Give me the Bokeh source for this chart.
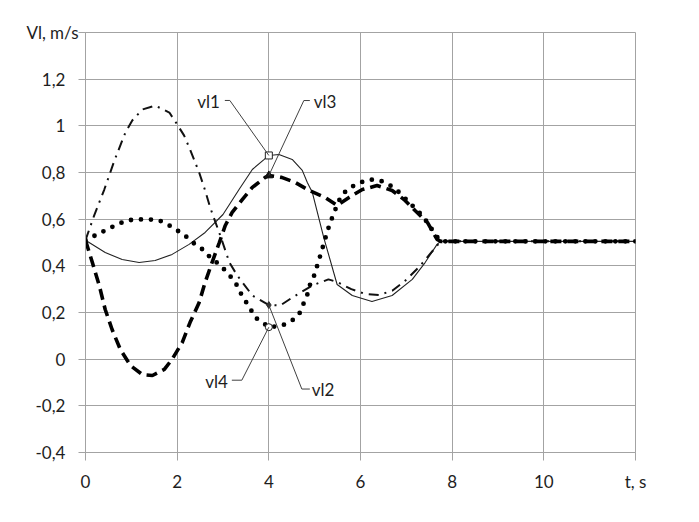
import numpy as np
from bokeh.plotting import figure
from bokeh.models import Range1d, FixedTicker, CustomJSTickFormatter, Label
from bokeh.embed import file_html
from bokeh.resources import INLINE

# ---------------- data ----------------
t_vl1 = [0, 0.43, 0.80, 1.17, 1.52, 1.89, 2.26, 2.61, 3.0, 3.35, 3.64, 3.9, 4.0, 4.22, 4.51,
         4.73, 4.84, 4.95, 5.2, 5.49, 5.82, 6.25, 6.69, 7.13, 7.41, 7.67, 7.75, 12]
vl1 = [0.51, 0.457, 0.427, 0.414, 0.423, 0.449, 0.492, 0.543, 0.62, 0.727, 0.813, 0.856, 0.873,
       0.877, 0.856, 0.809, 0.757, 0.714, 0.52, 0.32, 0.273, 0.247, 0.273, 0.342, 0.414, 0.492,
       0.505, 0.505]

t_vl2 = [0, 0.19, 0.41, 0.63, 0.87, 1.02, 1.24, 1.52, 1.83, 2.0, 2.15, 2.28, 2.48, 2.61, 2.72,
         2.94, 3.14, 3.31, 3.64, 4.0, 4.25, 4.51, 4.95, 5.3, 5.5, 5.8, 6.1, 6.4, 6.7, 7.0, 7.3,
         7.6, 7.75, 12]
vl2 = [0.51, 0.616, 0.727, 0.851, 0.971, 1.023, 1.07, 1.087, 1.057, 1.006, 0.959, 0.899, 0.80,
       0.723, 0.65, 0.53, 0.414, 0.359, 0.273, 0.232, 0.23, 0.264, 0.316, 0.342, 0.33, 0.30,
       0.28, 0.275, 0.294, 0.34, 0.40, 0.47, 0.505, 0.505]

t_vl3 = [0, 0.15, 0.3, 0.43, 0.58, 0.76, 0.98, 1.24, 1.46, 1.72, 1.89, 2.11, 2.28, 2.48, 2.61,
         2.76, 2.92, 3.05, 3.2, 3.42, 3.64, 3.92, 4.0, 4.28, 4.58, 4.88, 5.23, 5.49, 5.75, 6.04,
         6.36, 6.69, 6.95, 7.19, 7.46, 7.67, 7.75, 12]
vl3 = [0.51, 0.414, 0.316, 0.213, 0.127, 0.042, -0.027, -0.066, -0.07, -0.044, 0.0, 0.071,
       0.157, 0.243, 0.329, 0.414, 0.5, 0.573, 0.629, 0.684, 0.736, 0.779, 0.787, 0.779, 0.757,
       0.723, 0.693, 0.659, 0.693, 0.727, 0.744, 0.723, 0.684, 0.637, 0.586, 0.513, 0.505, 0.505]

t_vl4 = [0, 0.26, 0.47, 0.69, 0.91, 1.13, 1.39, 1.61, 1.83, 2.0, 2.22, 2.39, 2.59, 2.72, 2.92,
         3.09, 3.27, 3.42, 3.58, 3.7, 3.92, 4.0, 4.29, 4.51, 4.66, 4.84, 4.9, 4.99, 5.13, 5.27,
         5.34, 5.43, 5.49, 5.6, 5.78, 5.99, 6.21, 6.43, 6.65, 6.8, 7.02, 7.28, 7.46, 7.63, 7.75, 12]
vl4 = [0.51, 0.535, 0.556, 0.577, 0.595, 0.599, 0.599, 0.595, 0.573, 0.552, 0.522, 0.492, 0.466,
       0.436, 0.406, 0.372, 0.329, 0.27, 0.222, 0.179, 0.149, 0.137, 0.144, 0.166, 0.192, 0.277,
       0.32, 0.359, 0.449, 0.543, 0.586, 0.629, 0.663, 0.706, 0.736, 0.757, 0.77, 0.766, 0.744,
       0.723, 0.68, 0.629, 0.586, 0.534, 0.505, 0.505]

series_names = ["vl1", "vl2", "vl3", "vl4"]
marker_t = 4.0

x_ticks = [0, 2, 4, 6, 8, 10, 12]
x_tick_labels = ["0", "2", "4", "6", "8", "10", "t, s"]
y_ticks = [-0.4, -0.2, 0, 0.2, 0.4, 0.6, 0.8, 1.0, 1.2, 1.4]
y_tick_labels = ["-0,4", "-0,2", "0", "0,2", "0,4", "0,6", "0,8", "1", "1,2", "Vl, m/s"]
y_title = "Vl, m/s"

# ---------------- layout ----------------
W, H = 683, 506
BL, BR, BT, BB = 85, 48, 32, 54
FW, FH = W - BL - BR, H - BT - BB
X0, X1, Y0, Y1 = 0, 12, -0.4, 1.4
ppu_x = FW / (X1 - X0)
ppu_y = FH / (Y1 - Y0)

FONT = "Lato"
TXT = "#1e1e1e"
GRID = "#a3a3a3"
PAD = "\u00a0\u00a0\u00a0"   # keeps the numeric labels further from the axis than the title

p = figure(width=W, height=H, output_backend="svg", toolbar_location=None,
           x_range=Range1d(X0, X1), y_range=Range1d(Y0, Y1),
           min_border_left=BL, min_border_right=BR, min_border_top=BT, min_border_bottom=BB,
           background_fill_color="white", border_fill_color="white")

p.outline_line_color = GRID
p.outline_line_width = 1

fmt_code = """
for (let i = 0; i < vals.length; i++) {
  if (Math.abs(vals[i] - tick) < 1e-6) {
    return (labs[i] == title) ? labs[i] : labs[i] + pad;
  }
}
return "";
"""
p.xaxis.ticker = FixedTicker(ticks=x_ticks)
p.yaxis.ticker = FixedTicker(ticks=y_ticks)
p.xaxis.formatter = CustomJSTickFormatter(
    args=dict(vals=x_ticks, labs=x_tick_labels, title="", pad=""), code=fmt_code)
p.yaxis.formatter = CustomJSTickFormatter(
    args=dict(vals=y_ticks, labs=y_tick_labels, title=y_title, pad=PAD), code=fmt_code)

for ax in (p.xaxis, p.yaxis):
    ax.axis_line_color = GRID
    ax.axis_line_width = 1
    ax.major_tick_line_color = GRID
    ax.major_tick_in = 0
    ax.minor_tick_line_color = None
    ax.major_label_text_font = FONT
    ax.major_label_text_font_size = "17px"
    ax.major_label_text_color = TXT
p.xaxis.major_tick_out = 8
p.yaxis.major_tick_out = 7
p.xaxis.major_label_standoff = 10
p.yaxis.major_label_standoff = 0

p.xgrid.grid_line_color = GRID
p.ygrid.grid_line_color = GRID
p.xgrid.grid_line_width = 1
p.ygrid.grid_line_width = 1

# ---------------- curves ----------------
p.line(t_vl1, vl1, line_color="#222222", line_width=1.1)
p.line(t_vl2, vl2, line_color="#111111", line_width=2, line_dash="10 6 2 6")
p.line(t_vl3, vl3, line_color="#000000", line_width=3.6, line_dash="11 6")
p.line(t_vl4, vl4, line_color="#000000", line_width=4.8, line_dash="0 10", line_cap="round")

def at_marker(ts, vs):
    return vs[ts.index(marker_t)]

m1 = at_marker(t_vl1, vl1)
m2 = at_marker(t_vl2, vl2)
m3 = at_marker(t_vl3, vl3)
m4 = at_marker(t_vl4, vl4)

p.scatter([marker_t], [m1], marker="square", size=7, fill_color="white", line_color="#222222", line_width=1)
p.scatter([marker_t], [m3], marker="triangle", size=8, fill_color="#111111", line_color="#111111")
p.scatter([marker_t], [m2], marker="diamond", size=7, fill_color="#333333", line_color="#333333")
p.scatter([marker_t], [m4], marker="circle", size=7, fill_color="white", line_color="#222222", line_width=1)

# ---------------- callouts (pixel offsets from the marker) ----------------
# (name, series value, elbow dx, elbow dy, end dx, text dx, text dy, align); dy measured downwards
callouts = [
    ("vl1", m1, -39, -55, -44, -49, -54, "right"),
    ("vl3", m3, 35, -75, 41, 45, -74, "left"),
    ("vl4", m4, -27, 53, -37, -41, 54, "right"),
    ("vl2", m2, 33, 84, 41, 43, 84, "left"),
]
for name, v, edx, edy, endx, tdx, tdy, align in callouts:
    xs = [marker_t, marker_t + edx / ppu_x, marker_t + endx / ppu_x]
    ys = [v, v - edy / ppu_y, v - edy / ppu_y]
    p.line(xs, ys, line_color="#404040", line_width=1)
    p.add_layout(Label(x=marker_t, y=v, x_offset=tdx, y_offset=-tdy, text=name,
                       text_align=align, text_baseline="middle", text_font=FONT,
                       text_font_size="17px", text_color=TXT))

open("out.html", "w").write(file_html(p, INLINE))
